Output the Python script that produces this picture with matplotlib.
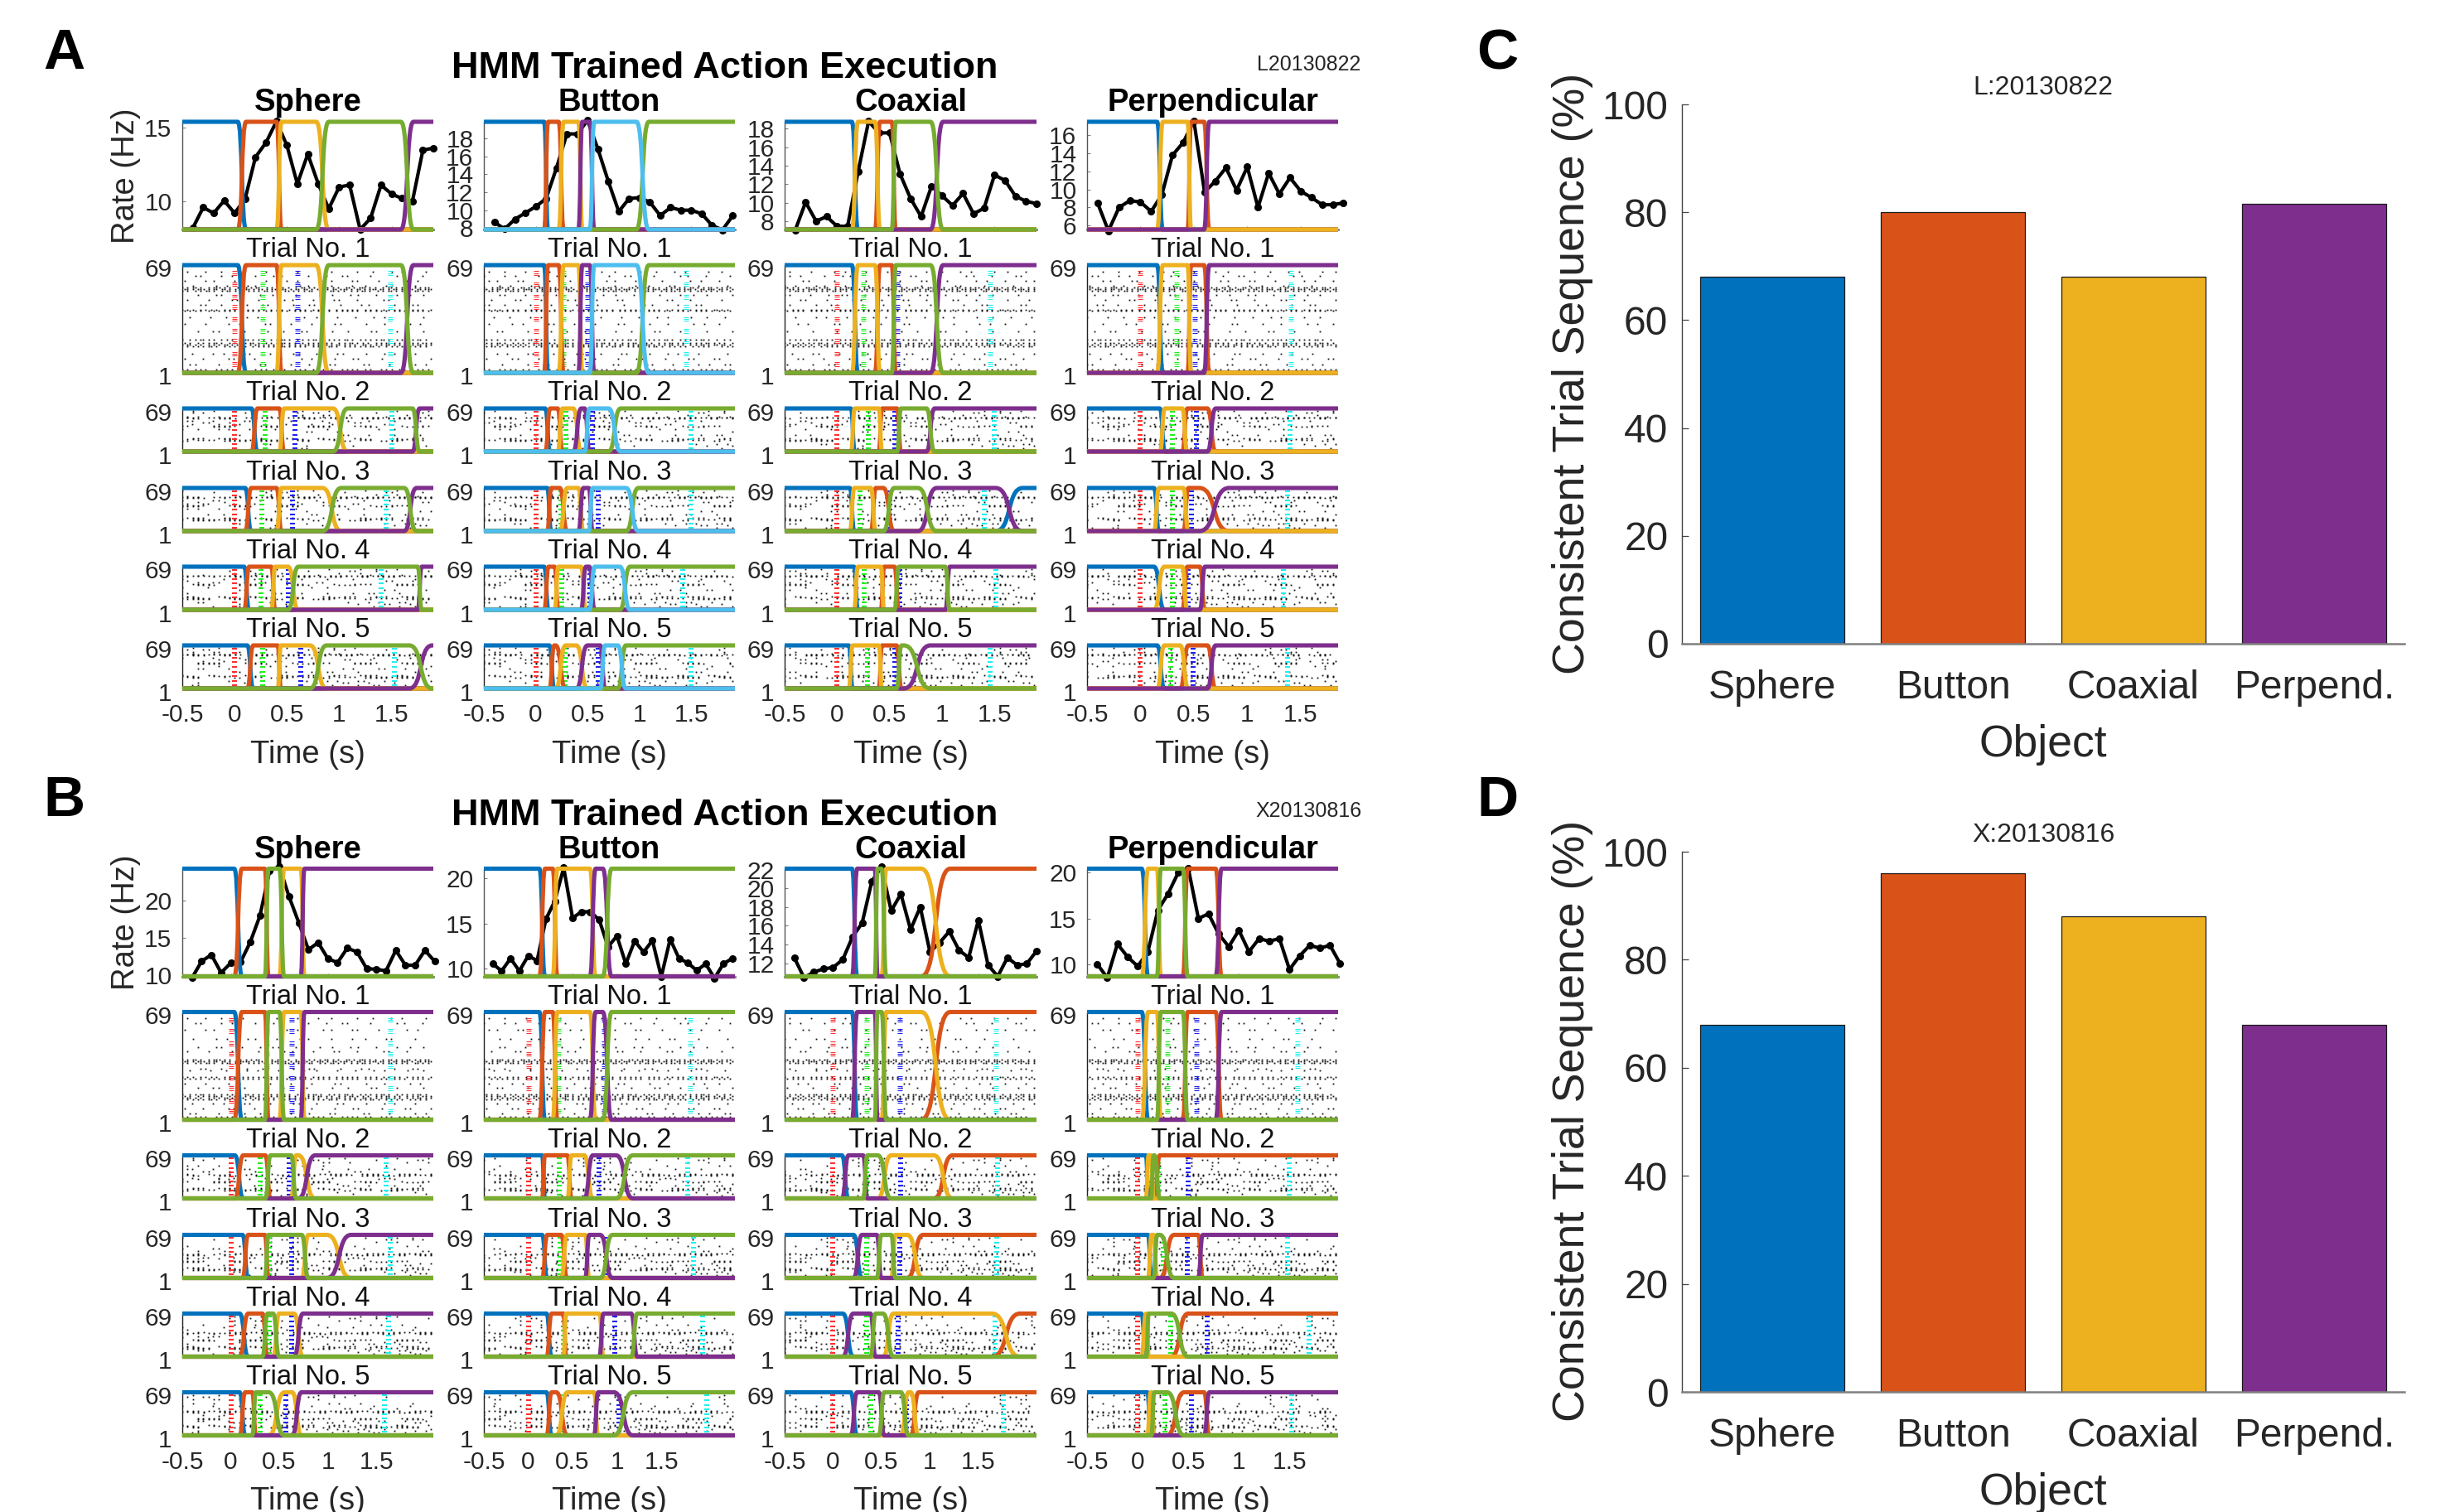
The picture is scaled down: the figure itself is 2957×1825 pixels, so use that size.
import matplotlib
matplotlib.use("Agg")
import matplotlib.pyplot as plt
from matplotlib.patches import PathPatch
from matplotlib.path import Path
from matplotlib.transforms import ScaledTranslation

plt.rcParams['font.family'] = ['Liberation Sans', 'DejaVu Sans']

W, H = 2957, 1825
DPI = 100

# ====== State colours (MATLAB order) ======
COLORS = {'b': '#0072BD', 'r': '#D95319', 'y': '#EDB120',
          'p': '#7E2F8E', 'g': '#77AC30', 'c': '#4DBEEE'}
DRAW_ORDER = 'brypgc'
EVENT_COLORS = ['#FF3030', '#20F020', '#2020F0', '#20F0F0']

OBJECTS = ['Sphere', 'Button', 'Coaxial', 'Perpendicular']
BAR_LABELS = ['Sphere', 'Button', 'Coaxial', 'Perpend.']
BAR_COLORS = ['#0072BD', '#D95319', '#EDB120', '#7E2F8E']
BARS_L = [68, 80, 68, 81.6]
BARS_X = [68, 96, 88, 68]

# ====== Population rate, one value every 0.1 s from -0.4 s ======
RATE_T0 = -0.4
RATE_DT = 0.1
RATE_L = [
    [8.19, 9.59, 9.2, 10.05, 9.2, 10.15, 12.99, 13.96, 15.4, 13.78, 11.18, 13.19,
     11.18, 9.5, 10.97, 11.1, 8.1, 8.86, 11.1, 10.5, 10.2, 10.0, 13.45, 13.6],
    [8.68, 7.9, 9.0, 9.7, 10.4, 11.3, 14.7, 18.5, 18.5, 20.0, 16.8, 13.2,
     9.85, 11.3, 11.4, 10.9, 9.4, 10.3, 10.0, 10.0, 9.6, 8.3, 7.8, 9.4],
    [7.0, 10.05, 8.0, 8.5, 7.45, 7.45, 13.35, 18.8, 17.55, 17.55, 13.1, 10.45,
     8.5, 11.8, 10.75, 9.7, 11.0, 8.8, 9.4, 13.0, 12.4, 10.7, 10.15, 9.9],
    [8.45, 5.4, 8.0, 8.75, 8.6, 7.55, 9.4, 13.8, 15.2, 17.6, 9.7, 10.9,
     12.4, 9.9, 12.5, 8.0, 11.8, 9.5, 11.3, 9.8, 9.1, 8.3, 8.3, 8.5],
]
RATE_X = [
    [9.6, 11.85, 12.7, 10.3, 11.6, 11.7, 14.4, 17.95, 24.0, 24.6, 20.55, 17.05, 13.4,
     14.35, 12.2, 11.65, 13.6, 13.1, 10.85, 10.75, 10.55, 13.3, 11.3, 11.3, 13.3, 11.85],
    [10.5, 9.7, 11.1, 9.7, 11.4, 10.85, 15.5, 17.5, 21.2, 15.6, 16.3, 16.3, 15.4, 12.4,
     13.6, 10.5, 13.05, 11.8, 13.1, 9.05, 13.25, 11.1, 10.6, 9.75, 10.5, 8.9, 10.5, 11.1],
    [12.6, 10.45, 11.05, 11.4, 11.55, 12.4, 14.8, 16.3, 20.75, 22.3, 17.6, 19.4, 15.6,
     18.0, 13.2, 14.2, 15.4, 13.4, 12.6, 16.6, 11.8, 10.6, 12.6, 11.8, 11.95, 13.3],
    [10.0, 8.5, 12.2, 10.8, 9.75, 11.3, 15.9, 17.7, 20.0, 20.5, 15.0, 15.5, 13.3,
     11.9, 13.7, 11.35, 12.8, 12.5, 12.8, 9.4, 10.9, 12.05, 11.75, 12.05, 10.05],
]

# axis ranges and ticks
XLIM_L = [1.9, 1.92, 1.9, 1.85]
XLIM_X = [2.087, 2.33, 2.1, 1.98]
YLIM_L = [(8.1, 15.37), (7.85, 19.85), (7.1, 18.75), (5.55, 17.5)]
YLIM_X = [(9.8, 24.3), (9.1, 21.1), (10.6, 22.1), (8.65, 20.45)]
YTICKS_L = [[10, 15], [8, 10, 12, 14, 16, 18], [8, 10, 12, 14, 16, 18], [6, 8, 10, 12, 14, 16]]
YTICKS_X = [[10, 15, 20], [10, 15, 20], [12, 14, 16, 18, 20, 22], [10, 15, 20]]
XTICKS = [-0.5, 0, 0.5, 1, 1.5]
XTICK_LABELS = ['-0.5', '0', '0.5', '1', '1.5']

# ====== HMM state order per object, and start/end of each switch (s), 5 trials ======
SEQ_L = ['brygp', 'brypcg', 'byrgpb', 'byrp']
SEQ_X = ['brgyp', 'brypg', 'bpgyr', 'bygrp']

SWITCH_L_SPHERE = [
    [(0.03, 0.11), (0.40, 0.45), (0.78, 0.90), (1.59, 1.71)],
    [(0.16, 0.22), (0.425, 0.475), (0.94, 1.08), (1.70, 1.77)],
    [(0.10, 0.16), (0.40, 0.45), (0.84, 1.02), (1.62, 1.74)],
    [(0.09, 0.14), (0.35, 0.39), (0.51, 0.61), (1.75, 1.79)],
    [(0.12, 0.18), (0.41, 0.445), (0.72, 0.88), (1.67, 1.89)],
]
SWITCH_L_BUTTON = [
    [(0.08, 0.12), (0.22, 0.27), (0.41, 0.45), (0.52, 0.565), (0.97, 1.09)],
    [(0.09, 0.14), (0.21, 0.26), (0.36, 0.44), (0.47, 0.52), (0.70, 0.82)],
    [(0.11, 0.15), (0.23, 0.305), (0.41, 0.46), (0.51, 0.55), (0.87, 0.99)],
    [(0.08, 0.125), (0.18, 0.22), (0.435, 0.485), (0.515, 0.57), (0.81, 0.91)],
    [(0.13, 0.18), (0.19, 0.29), (0.39, 0.50), (0.62, 0.67), (0.79, 0.87)],
]
SWITCH_L_COAXIAL = [
    [(0.14, 0.20), (0.36, 0.41), (0.52, 0.56), (0.89, 1.01)],
    [(0.13, 0.17), (0.395, 0.43), (0.57, 0.61), (0.85, 0.93)],
    [(0.12, 0.165), (0.32, 0.37), (0.44, 0.545), (0.77, 0.95), (1.51, 1.77)],
    [(0.16, 0.20), (0.415, 0.45), (0.545, 0.59), (1.03, 1.075)],
    [(0.11, 0.15), (0.395, 0.43), (0.565, 0.615), (0.635, 0.89)],
]
SWITCH_L_PERP = [
    [(0.155, 0.21), (0.44, 0.475), (0.595, 0.645)],
    [(0.18, 0.23), (0.39, 0.44), (0.625, 0.705)],
    [(0.125, 0.175), (0.40, 0.45), (0.55, 0.83)],
    [(0.125, 0.225), (0.39, 0.44), (0.555, 0.605)],
    [(0.155, 0.225), (0.37, 0.45), (0.625, 0.705)],
]
SWITCH_X_SPHERE = [
    [(0.035, 0.115), (0.35, 0.39), (0.50, 0.55), (0.72, 0.76)],
    [(0.04, 0.13), (0.355, 0.41), (0.62, 0.675), (0.695, 0.87)],
    [(0.12, 0.18), (0.35, 0.39), (0.73, 0.80), (0.99, 1.24)],
    [(0.09, 0.18), (0.325, 0.38), (0.435, 0.50), (0.65, 0.745)],
    [(0.09, 0.15), (0.22, 0.26), (0.39, 0.555), (0.63, 0.73)],
]
SWITCH_X_BUTTON = [
    [(0.125, 0.19), (0.275, 0.33), (0.695, 0.76), (0.84, 0.94)],
    [(0.155, 0.19), (0.44, 0.49), (0.63, 0.73), (0.99, 1.18)],
    [(0.155, 0.215), (0.37, 0.44), (0.64, 0.69), (0.81, 0.95)],
    [(0.205, 0.265), (0.395, 0.43), (0.80, 0.85), (1.16, 1.23)],
    [(0.205, 0.265), (0.315, 0.445), (0.74, 0.79), (0.965, 1.18)],
]
SWITCH_X_COAXIAL = [
    [(0.195, 0.25), (0.43, 0.46), (0.50, 0.55), (0.91, 1.21)],
    [(0.09, 0.16), (0.31, 0.355), (0.46, 0.60), (1.04, 1.235)],
    [(0.21, 0.30), (0.45, 0.50), (0.60, 0.645), (0.765, 0.93)],
    [(0.10, 0.21), (0.385, 0.44), (0.515, 0.625), (1.64, 1.93)],
    [(0.18, 0.25), (0.47, 0.53), (0.70, 0.78), (0.80, 0.885)],
]
SWITCH_X_PERP = [
    [(0.04, 0.105), (0.19, 0.23), (0.445, 0.495), (0.77, 0.83)],
    [(0.08, 0.11), (0.13, 0.16), (0.165, 0.22)],
    [(0.10, 0.14), (0.155, 0.195), (0.22, 0.36), (0.595, 0.645)],
    [(0.035, 0.085), (0.085, 0.11), (0.33, 0.50)],
    [(0.095, 0.13), (0.135, 0.165), (0.29, 0.46), (0.655, 0.71)],
]
SWITCH_L = [SWITCH_L_SPHERE, SWITCH_L_BUTTON, SWITCH_L_COAXIAL, SWITCH_L_PERP]
SWITCH_X = [SWITCH_X_SPHERE, SWITCH_X_BUTTON, SWITCH_X_COAXIAL, SWITCH_X_PERP]

# ====== Behavioural events: green, blue, cyan time (s) per trial; red is always 0 ======
EVENTS_L = [
    [(0.27, 0.60, 1.49), (0.29, 0.58, 1.50), (0.26, 0.55, 1.445), (0.25, 0.51, 1.40), (0.27, 0.63, 1.53)],
    [(0.27, 0.50, 1.45), (0.29, 0.55, 1.50), (0.24, 0.60, 1.50), (0.25, 0.52, 1.42), (0.28, 0.60, 1.50)],
    [(0.25, 0.57, 1.46), (0.30, 0.55, 1.50), (0.22, 0.50, 1.40), (0.26, 0.60, 1.51), (0.29, 0.55, 1.46)],
    [(0.34, 0.51, 1.41), (0.30, 0.52, 1.40), (0.30, 0.48, 1.38), (0.30, 0.45, 1.34), (0.28, 0.49, 1.38)],
]
EVENTS_X = [
    [(0.37, 0.63, 1.64), (0.30, 0.60, 1.60), (0.40, 0.63, 1.64), (0.40, 0.63, 1.63), (0.30, 0.57, 1.58)],
    [(0.34, 0.85, 1.83), (0.35, 0.80, 1.80), (0.36, 0.87, 1.86), (0.40, 0.98, 1.97), (0.38, 1.02, 2.01)],
    [(0.35, 0.69, 1.68), (0.35, 0.70, 1.70), (0.35, 0.69, 1.69), (0.345, 0.67, 1.67), (0.39, 0.76, 1.76)],
    [(0.29, 0.58, 1.58), (0.20, 0.50, 1.50), (0.25, 0.49, 1.48), (0.325, 0.69, 1.69), (0.27, 0.53, 1.52)],
]
EVENT_UNITS = [64, 57, 49, 42.5, 35, 27.5, 21, 13, 6.5]

# ====== Spike raster, hand-typed texture of the picture: one string per unit, | is a spike ======
SPIKE_ROWS = [
    "..|......|.....|.......|........|...|.......|.......|....|.........|.....|......|...|........|..",
    ".....|.|.......|...|........|......|..|.........|......|.....|.|........|.........|..|......|...",
    ".|.......|..|.......|.|.........|.......|...|.........|..|.......|.|.......|..........|...|.....",
    "....|........|...|.......|..|.......|........|..|........|.......|....|.......|.|........|......",
    "|.|.||.|..|.|||.|.|..||.|.|.||..|.|.|||.|..|.||.|.|.|.||.|.|..||.|.|||.|.|..|.||.|.|.||.|.|.||.",
    ".||.|.|||.|.||.||.|.|.||||.|.||.|.|||.||.|.||.||.|.|||.|.||.|||.|.||.|.|||.||.|.||.|||.|.||.|||",
    "|.|..|.|.||.|..|.||.|.|..|.|.|.||.|.|..||.|.|.|.||..|.|.||.|.|..|.|.||.|..|.|.||.|.|.|..||.|.|.",
    "......|......|.|.......|......|....|.|......|........|....|......|..|......|.......|....|....|...",
    "..|.......|........|.|.......|.........|..|.......|.......|.|......|.........|.|......|.........",
    ".......|.|.....|.........|.....|.|.........|.....|.|.........|.......|..|.........|......|.|.....",
    "|.|.|..|.|.|.|..|.|.|..|.|.|.|.|..|.|.|..|.|.|.|..|.|.|.|..|.|.|.|.|..|.|.|..|.|.|.|..|.|.|.|..|",
    ".|.|.|.|..|.|.|.|.|.|..|.|.|.|..|.|.|.|.|..|.|.|.|..|.|.|..|.|.|.|.|..|.|.|.|.|..|.|.|..|.|.|.|.",
    "...|.......|.....|.......|...|.......|.........|....|.......|......|......|...|........|.....|...",
    ".|.......|........|...|.........|.|.......|.......|........|.|.........|......|.........|...|....",
    "......|.....|.|.........|........|.....|......|.|.........|.....|........|.|.......|.........|...",
    "|..|.|.||.|.|..|.|.|..|.||.|.|.|..|.|.||.|..|.|.|.||.|..|.|.|.||.|..|.|.|.|.||.|..|.|.|.|.||.|..",
    ".|.|..|.|.|.||.|..|.|.|.|.||.|..|.|.|.||.|.|..|.|.|.||.|.|..|.|.||.|.|.|..|.|.||.|.|..|.|.|.||.|",
    "|.||.|.|..|.|.|.||.|.|.|..|.||.|.|.|.||..|.|.|.||.|.|..|.|.||.|.|.|..||.|.|.|.||.|.|..|.|.||.|.|",
    "..|.|.|.|.||.|..|.|.|.|.|..|.|.|.|.|..||.|.|.|.|..|.|.|.||.|..|.|.|.|.|.||.|..|.|.|.|..|.|.|.|..",
    "....|.......|...|.......|.|.......|........|.|......|.......|.|........|......|...|.......|......",
    ".|......|.........|.|.......|.........|.......|...|........|......|.|........|........|.|.......|",
    "...|.|........|.........|.....|.|.........|......|.......|.|..........|.|.......|.........|...|..",
    "|.|..|.|.|...|.|.|.|..|.|...|.|.|..|.|.|...|.|.|..|.|.|..|...|.|.|.|..|.|...|.|.|..|.|.|..|.|.|.",
]
SPIKE_UNITS_L = [65, 62, 59, 56, 55, 54, 53, 50, 47, 44, 41, 40, 36, 32, 27, 22, 20, 19, 18, 13, 10, 6, 3]
SPIKE_UNITS_X = [65, 62, 58, 52, 39, 38, 37, 47, 44, 33, 28, 27, 32, 24, 21, 17, 16, 15, 14, 11, 8, 5, 3]
# rotation of the rows for each object and trial, so the panels do not repeat
ROW_SHIFT = [[0, 11, 23, 37, 53], [7, 19, 31, 43, 61], [13, 29, 41, 59, 71], [3, 17, 47, 67, 83]]

# ====== Layout in reference pixels ======
COL_X = [(220, 523), (584, 887), (947, 1251), (1312, 1615)]
RATE_Y = (147, 277)
TRIAL_Y = [(320, 450), (493, 545), (589, 641), (684, 736), (779, 831)]
ROW_OFFSET = 901.5


def make_axes(fig, x0, x1, y0, y1):
    return fig.add_axes([x0 / W, 1 - y1 / H, (x1 - x0) / W, (y1 - y0) / H])


def px_text(fig, x, y, s, **kw):
    kw.setdefault('ha', 'center')
    kw.setdefault('va', 'center')
    fig.text(x / W, 1 - y / H, s, **kw)


def style_axes(ax):
    for side in ['top', 'right']:
        ax.spines[side].set_visible(False)
    ax.spines['left'].set_color('#555555')
    ax.spines['left'].set_linewidth(1.0)
    ax.spines['bottom'].set_color('#808080')
    ax.spines['bottom'].set_linewidth(2.0)
    ax.tick_params(axis='both', direction='in', length=3, width=0.8, color='#808080',
                   labelsize=21.5, labelcolor='#262626')
    ax.tick_params(axis='y', pad=9)
    ax.tick_params(axis='x', pad=13)


def draw_states(ax, seq, switches, t0, t1):
    # each switch is drawn as an S-shaped bezier between its start and end time
    tr = ax.get_xaxis_transform()
    for key in DRAW_ORDER:
        if key not in seq[:len(switches) + 1]:
            continue
        level = 1 if seq[0] == key else 0
        verts, codes = [(t0, level)], [Path.MOVETO]
        for i, (a, b) in enumerate(switches):
            if seq[i] == key:
                y_a, y_b = 1, 0
            elif seq[i + 1] == key:
                y_a, y_b = 0, 1
            else:
                continue
            bend = 0.6 * (b - a)
            verts += [(a, y_a), (a + bend, y_a), (b - bend, y_b), (b, y_b)]
            codes += [Path.LINETO, Path.CURVE4, Path.CURVE4, Path.CURVE4]
            level = y_b
        verts.append((t1, level))
        codes.append(Path.LINETO)
        ax.add_patch(PathPatch(Path(verts, codes), fill=False, edgecolor=COLORS[key], lw=3.7,
                               transform=tr, clip_on=False, capstyle='butt',
                               joinstyle='round', zorder=4))


def draw_raster(ax, units, shift, t0, t1, events, short):
    xs, ys = [], []
    step = 2 if short else 1
    for row, unit in zip(SPIKE_ROWS, units):
        row = row[shift:] + row[:shift]
        for i, ch in enumerate(row):
            if ch == '|' and i % step == 0:
                xs.append(t0 + (t1 - t0) * i / len(row))
                ys.append(unit)
    ax.plot(xs, ys, ls='none', marker='s', ms=1.3, mew=0, color='#111111', zorder=1)
    for t, color in zip([0] + list(events), EVENT_COLORS):
        for u in EVENT_UNITS:
            if short:
                ax.plot([t], [u], ls='none', marker='_', ms=4, mew=1.5, color=color, zorder=2)
            else:
                ax.plot([t, t, t], [u - 1.2, u, u + 1.2], ls='none', marker='_', ms=4, mew=0.8,
                        color=color, zorder=2)


def draw_block(fig, dy, rates, seqs, switch_sets, events, xlims, ylims, yticks, units, tag):
    px_text(fig, 875, 83 + dy, 'HMM Trained Action Execution', fontsize=32.5, fontweight='bold')
    px_text(fig, 1580, 78 + dy, tag, fontsize=18, color='#262626')
    px_text(fig, 152, 212 + dy, 'Rate (Hz)', fontsize=27.5, rotation=90, color='#262626')
    for col, (x0, x1) in enumerate(COL_X):
        t1 = xlims[col]
        # rate panel
        ax = make_axes(fig, x0, x1, RATE_Y[0] + dy, RATE_Y[1] + dy)
        style_axes(ax)
        ax.set_xlim(-0.5, t1)
        ax.set_ylim(*ylims[col])
        ax.set_xticks(XTICKS)
        ax.set_xticklabels([])
        ax.set_yticks(yticks[col])
        times = [RATE_T0 + RATE_DT * i for i in range(len(rates[col]))]
        ax.plot(times, rates[col], color='black', lw=3.0, marker='o', ms=5.5,
                clip_on=False, zorder=3)
        draw_states(ax, seqs[col], switch_sets[col][0], -0.5, t1)
        ax.set_title(OBJECTS[col], fontsize=27.5, fontweight='bold', pad=9)
        # trial panels
        for trial, (y0, y1) in enumerate(TRIAL_Y):
            ax = make_axes(fig, x0, x1, y0 + dy, y1 + dy)
            style_axes(ax)
            ax.set_xlim(-0.5, t1)
            ax.set_ylim(1, 69)
            ax.set_yticks([1, 69])
            ax.set_xticks(XTICKS)
            if trial == 4:
                ax.set_xticklabels(XTICK_LABELS)
            else:
                ax.set_xticklabels([])
            ax.tick_params(axis='x', length=0)
            ax.spines['left'].set_color('#222222')
            ax.spines['bottom'].set_visible(False)
            nudge = ScaledTranslation(0, -3.5 / DPI, fig.dpi_scale_trans)
            for lab in ax.get_yticklabels():
                lab.set_transform(lab.get_transform() + nudge)
            draw_raster(ax, units, ROW_SHIFT[col][trial], -0.5, t1, events[col][trial], trial > 0)
            draw_states(ax, seqs[col], switch_sets[col][trial], -0.5, t1)
            ax.set_title('Trial No. %d' % (trial + 1), fontsize=23.5, pad=7, color='#111111')
        px_text(fig, (x0 + x1) / 2, 911 + dy, 'Time (s)', fontsize=27.5, color='#262626')


def draw_bars(fig, y0, y1, values, tag):
    ax = make_axes(fig, 2030, 2902, y0, y1)
    ax.bar(range(1, 5), values, width=0.8, color=BAR_COLORS, edgecolor='#1a1a1a', linewidth=0.9)
    ax.set_xlim(0.5, 4.5)
    ax.set_ylim(0, 100)
    ax.set_yticks(range(0, 101, 20))
    ax.set_xticks(range(1, 5))
    ax.set_xticklabels(BAR_LABELS)
    for side in ['top', 'right']:
        ax.spines[side].set_visible(False)
    ax.spines['left'].set_color('#444444')
    ax.spines['left'].set_linewidth(1.0)
    ax.spines['bottom'].set_color('#808080')
    ax.spines['bottom'].set_linewidth(1.8)
    ax.tick_params(axis='y', direction='in', length=6, width=0.9, labelsize=34.5,
                   labelcolor='#262626', pad=12, color='#444444')
    ax.tick_params(axis='x', length=0, labelsize=34.5, labelcolor='#262626', pad=22)
    px_text(fig, 1898, (y0 + y1) / 2 - 1, 'Consistent Trial Sequence (%)', fontsize=38.7,
            rotation=90, color='#262626')
    px_text(fig, 2466, y1 + 122, 'Object', fontsize=38.5, color='#262626')
    px_text(fig, 2466, y0 - 20, tag, fontsize=23, color='#262626')


fig = plt.figure(figsize=(W / DPI, H / DPI), dpi=DPI)

draw_block(fig, 0, RATE_L, SEQ_L, SWITCH_L, EVENTS_L,
           XLIM_L, YLIM_L, YTICKS_L, SPIKE_UNITS_L, 'L20130822')
draw_block(fig, ROW_OFFSET, RATE_X, SEQ_X, SWITCH_X, EVENTS_X,
           XLIM_X, YLIM_X, YTICKS_X, SPIKE_UNITS_X, 'X20130816')

draw_bars(fig, 126, 777, BARS_L, 'L:20130822')
draw_bars(fig, 1028, 1680, BARS_X, 'X:20130816')

for letter, x, y in [('A', 77, 65), ('B', 77, 967), ('C', 1807, 65), ('D', 1807, 967)]:
    px_text(fig, x, y, letter, fontsize=50, fontweight='bold', color='black')

fig.savefig('out.png', dpi=DPI, facecolor='white')
